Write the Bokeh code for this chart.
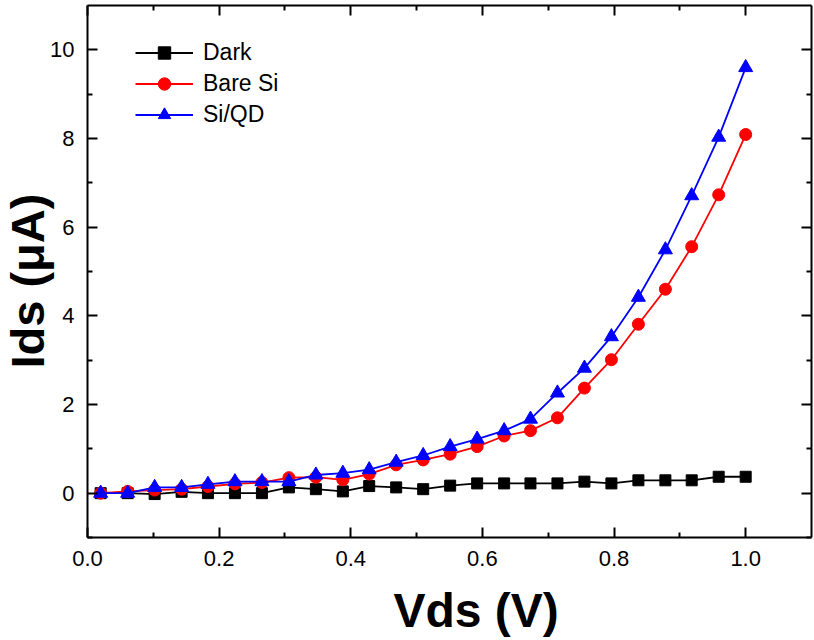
from bokeh.plotting import figure
from bokeh.models import (Range1d, LinearAxis, FixedTicker, Legend, LegendItem,
                          Title, NumeralTickFormatter)
from bokeh.embed import file_html
from bokeh.resources import INLINE

# ---- data ----
vds = [0.02, 0.061, 0.102, 0.143, 0.183, 0.224, 0.265, 0.306, 0.347, 0.388,
       0.428, 0.469, 0.51, 0.551, 0.592, 0.633, 0.673, 0.714, 0.755, 0.796,
       0.837, 0.878, 0.918, 0.959, 1.0]
dark = [0.0, 0.0, -0.02, 0.03, 0.0, 0.0, 0.0, 0.13, 0.09, 0.04,
        0.16, 0.13, 0.09, 0.17, 0.22, 0.22, 0.22, 0.22, 0.26, 0.22,
        0.29, 0.29, 0.29, 0.37, 0.37]
bare_si = [0.0, 0.04, 0.07, 0.09, 0.15, 0.21, 0.24, 0.35, 0.36, 0.30,
           0.43, 0.64, 0.75, 0.88, 1.05, 1.29, 1.41, 1.70, 2.37, 3.01,
           3.81, 4.60, 5.56, 6.73, 8.09]
si_qd = [0.0, 0.0, 0.13, 0.13, 0.20, 0.26, 0.26, 0.26, 0.41, 0.45,
         0.53, 0.70, 0.85, 1.05, 1.22, 1.41, 1.67, 2.26, 2.82, 3.53,
         4.42, 5.49, 6.71, 8.03, 9.60]

x_ticks = [0.0, 0.2, 0.4, 0.6, 0.8, 1.0]
x_minor = [0.1, 0.3, 0.5, 0.7, 0.9]
y_ticks = [0, 2, 4, 6, 8, 10]
y_minor = [-1, 1, 3, 5, 7, 9]
x_title_text = "Vds (V)"
y_title_text = "Ids (μA)"

FONT = "Liberation Sans"

p = figure(width=814, height=640, x_range=Range1d(0, 1.1), y_range=Range1d(-1, 11),
           output_backend="svg", toolbar_location=None,
           x_axis_location=None, y_axis_location=None,
           min_border_left=87, min_border_right=3, min_border_top=5,
           min_border_bottom=103)
p.outline_line_color = None
p.xgrid.visible = False
p.ygrid.visible = False
p.background_fill_color = "white"


def style_axis(ax, show_labels):
    ax.axis_line_width = 2
    ax.axis_line_color = "black"
    ax.major_tick_line_width = 2
    ax.minor_tick_line_width = 2
    ax.major_tick_in = 10
    ax.major_tick_out = 0
    ax.minor_tick_in = 5
    ax.minor_tick_out = 0
    ax.axis_label = None
    if show_labels:
        ax.major_label_text_font = FONT
        ax.major_label_text_font_size = "22px"
        ax.major_label_text_color = "black"
        ax.major_label_standoff = 13
    else:
        ax.major_label_text_font_size = "0px"
        ax.major_label_standoff = 0
        ax.axis_label_standoff = 0


xb = LinearAxis(ticker=FixedTicker(ticks=x_ticks, minor_ticks=x_minor),
                formatter=NumeralTickFormatter(format="0.0"))
style_axis(xb, True)
# x title as the bottom axis label; the leading no-break spaces shift its
# centre to the right like in the reference
xb.axis_label = "\u00a0\u00a0\u00a0\u00a0" + x_title_text
xb.axis_label_standoff = 15
xb.axis_label_text_font = FONT
xb.axis_label_text_font_style = "bold"
xb.axis_label_text_font_size = "48px"
xb.axis_label_text_color = "black"

xt = LinearAxis(ticker=FixedTicker(ticks=x_ticks, minor_ticks=x_minor))
style_axis(xt, False)
yl = LinearAxis(ticker=FixedTicker(ticks=y_ticks, minor_ticks=y_minor))
style_axis(yl, True)
yr = LinearAxis(ticker=FixedTicker(ticks=y_ticks, minor_ticks=y_minor))
style_axis(yr, False)
p.add_layout(xb, "below")
p.add_layout(xt, "above")
p.add_layout(yl, "left")
p.add_layout(yr, "right")

series = [
    ("Dark", dark, "black", "square", 11),
    ("Bare Si", bare_si, "red", "circle", 12),
    ("Si/QD", si_qd, "blue", "triangle", 14),
]
items = []
for name, vals, col, mk, sz in series:
    ln = p.line(vds, vals, line_color=col, line_width=1.8)
    sc = p.scatter(vds, vals, marker=mk, size=sz, color=col)
    items.append(LegendItem(label=name, renderers=[ln, sc]))

legend = Legend(items=items, location=(48, 407), orientation="vertical",
                glyph_width=58, glyph_height=31, label_height=31,
                label_standoff=10, spacing=0, padding=0, margin=0,
                border_line_color=None, background_fill_alpha=0,
                label_text_font=FONT, label_text_font_size="23px",
                label_text_color="black")
p.add_layout(legend)

y_title = Title(text=y_title_text, align="left", offset=169, standoff=-12,
                text_font=FONT, text_font_style="bold", text_font_size="47px",
                text_color="black")
p.add_layout(y_title, "left")

open("out.html", "w").write(file_html(p, INLINE))
